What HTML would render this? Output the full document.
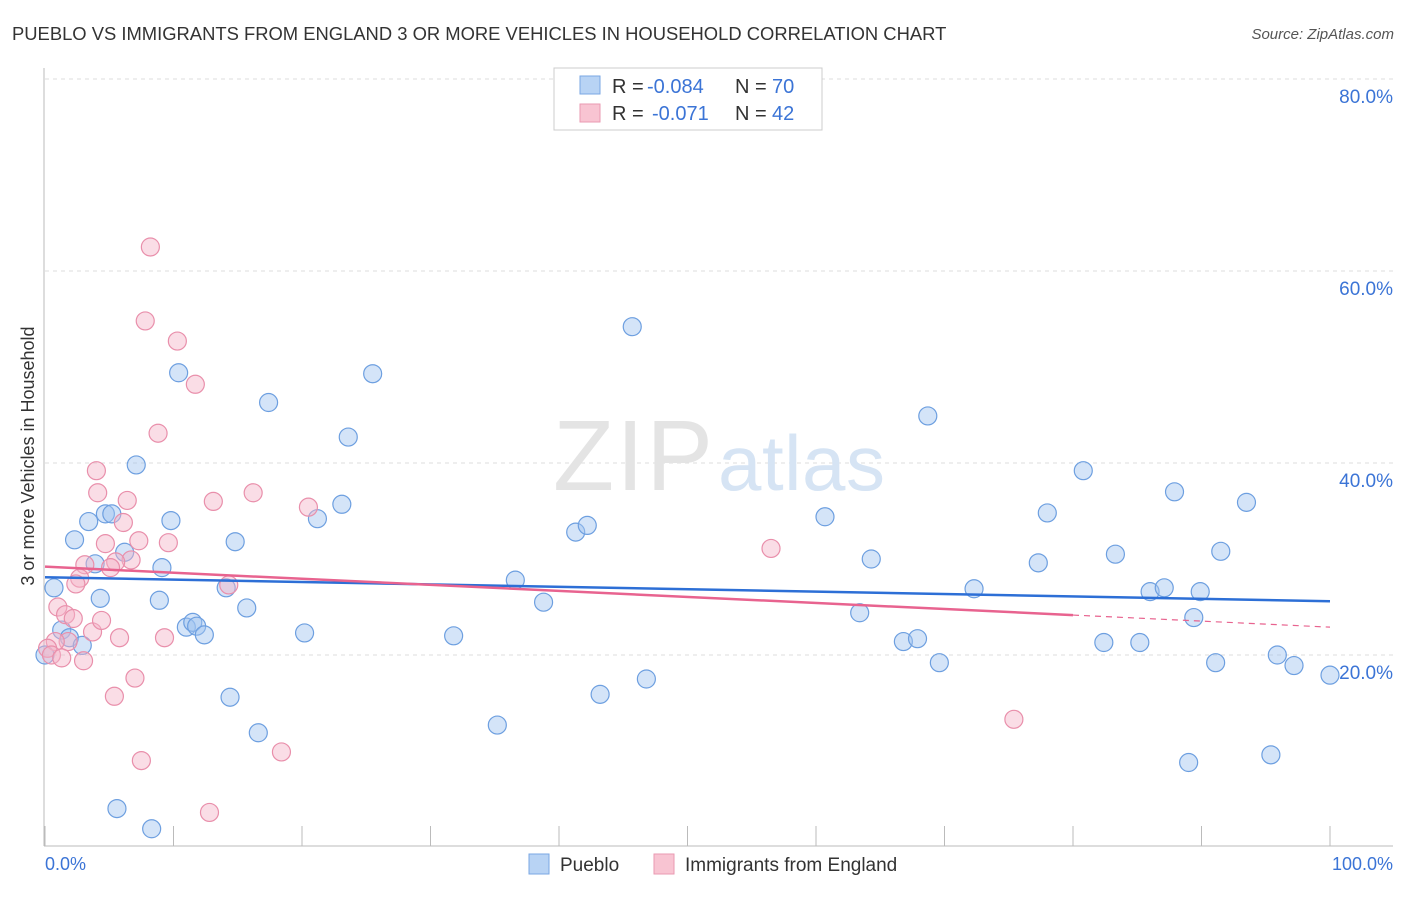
<!DOCTYPE html>
<html><head><meta charset="utf-8"><style>
body{margin:0;background:#fff;font-family:"Liberation Sans",sans-serif;}
svg text{font-family:"Liberation Sans",sans-serif;}
</style></head><body>
<svg id="chart" width="1406" height="892">
<text x="12" y="40" font-size="18.4" fill="#333">PUEBLO VS IMMIGRANTS FROM ENGLAND 3 OR MORE VEHICLES IN HOUSEHOLD CORRELATION CHART</text>
<text x="1394" y="39" font-size="15" fill="#555" text-anchor="end" font-style="italic">Source: ZipAtlas.com</text>
<g id="grid"></g>
<text x="553" y="490" font-size="100" fill="#e4e4e4" font-family="Liberation Serif" textLength="160">ZIP</text>
<text x="718" y="490" font-size="78" fill="#d6e4f4" textLength="167">atlas</text>
<g id="pts"></g>
<g id="trend"></g>
<text x="34" y="456" font-size="18" fill="#333" text-anchor="middle" transform="rotate(-90 34 456)">3 or more Vehicles in Household</text>
<g>
<rect x="554" y="68" width="268" height="62" fill="#fff" stroke="#ccc"/>
<rect x="580" y="76" width="20" height="18" fill="#b8d3f4" stroke="#7aa7e3"/>
<rect x="580" y="104" width="20" height="18" fill="#f8c4d2" stroke="#ea9ab2"/>
<text x="612" y="93" font-size="20" fill="#333">R =</text>
<text x="647" y="93" font-size="20" fill="#3b74d6">-0.084</text>
<text x="735" y="93" font-size="20" fill="#333">N =</text>
<text x="772" y="93" font-size="20" fill="#3b74d6">70</text>
<text x="612" y="120" font-size="20" fill="#333">R =</text>
<text x="652" y="120" font-size="20" fill="#3b74d6">-0.071</text>
<text x="735" y="120" font-size="20" fill="#333">N =</text>
<text x="772" y="120" font-size="20" fill="#3b74d6">42</text>
</g>
<g>
<rect x="529" y="854" width="20" height="20" fill="#b8d3f4" stroke="#7aa7e3"/>
<text x="560" y="871" font-size="19" fill="#333">Pueblo</text>
<rect x="654" y="854" width="20" height="20" fill="#f8c4d2" stroke="#ea9ab2"/>
<text x="685" y="871" font-size="19" fill="#333">Immigrants from England</text>
</g>
<text x="45" y="870" font-size="18" fill="#3b74d6">0.0%</text>
<text x="1393" y="870" font-size="18" fill="#3b74d6" text-anchor="end">100.0%</text>
</svg>
<script>
const yTicks=[20,40,60,80];
const blueX=[0.7,1.3,1.9,2.3,2.9,3.4,3.9,4.3,4.7,5.2,7.1,6.2,8.9,9.1,9.8,10.4,11.0,11.5,11.8,12.4,14.1,14.4,14.8,15.7,16.6,17.4,20.2,21.2,23.1,23.6,25.5,5.6,8.3,31.8,35.2,36.6,38.8,41.3,42.2,43.2,45.7,46.8,60.7,63.4,64.3,66.8,67.9,68.7,69.6,72.3,77.3,78.0,80.8,82.4,83.3,85.2,86.0,87.1,87.9,89.0,89.4,89.9,91.1,91.5,93.5,95.4,95.9,97.2,100,0];
const blueY=[27.0,22.6,21.8,32.0,21.0,33.9,29.5,25.9,34.7,34.7,39.8,30.7,25.7,29.1,34.0,49.4,22.9,23.4,23.0,22.1,27.0,15.6,31.8,24.9,11.9,46.3,22.3,34.2,35.7,42.7,49.3,4.0,1.9,22.0,12.7,27.8,25.5,32.8,33.5,15.9,54.2,17.5,34.4,24.4,30.0,21.4,21.7,44.9,19.2,26.9,29.6,34.8,39.2,21.3,30.5,21.3,26.6,27.0,37.0,8.8,23.9,26.6,19.2,30.8,35.9,9.6,20.0,18.9,17.9,20.0];
const pinkX=[8.2,7.8,10.3,11.7,8.8,4.0,4.1,6.4,13.1,16.2,20.5,6.1,7.3,4.7,9.6,6.7,5.5,3.1,2.7,2.4,5.1,14.3,1.0,1.6,2.2,3.7,4.4,5.8,9.3,1.8,0.8,0.2,0.5,1.3,3.0,7.0,5.4,7.5,18.4,12.8,56.5,75.4];
const pinkY=[62.5,54.8,52.7,48.2,43.1,39.2,36.9,36.1,36.0,36.9,35.4,33.8,31.9,31.6,31.7,29.9,29.7,29.4,28.0,27.4,29.1,27.3,25.0,24.2,23.8,22.4,23.6,21.8,21.8,21.4,21.4,20.7,20.0,19.7,19.4,17.6,15.7,9.0,9.9,3.6,31.1,13.3];
const blueTrend=[28.1,25.6];
const pinkTrend=[29.2,22.9];
const pinkSolidEnd=80;
const X0=45,X1=1330,Y0=847,PY=9.6;
const sx=v=>X0+(X1-X0)*v/100, sy=v=>Y0-v*PY;
const NS='http://www.w3.org/2000/svg';
function mk(tag,attrs,parent){const e=document.createElementNS(NS,tag);for(const k in attrs)e.setAttribute(k,attrs[k]);parent.appendChild(e);return e;}
const grid=document.getElementById('grid');
yTicks.forEach(t=>{
  const l=mk('line',{x1:45,x2:1393,y1:sy(t),y2:sy(t),stroke:'#ddd','stroke-dasharray':'4,4'},grid);
  
  
  const tx=mk('text',{x:1393,y:sy(t)+24,'font-size':19,fill:'#3b74d6','text-anchor':'end'},grid);
  tx.textContent=t.toFixed(1)+'%';
  
  
});
const ax=mk('line',{x1:44,x2:44,y1:68,y2:846,stroke:'#bbb'},grid);


const xa=mk('line',{x1:44,x2:1393,y1:846,y2:846,stroke:'#bbb'},grid);


for(let i=0;i<=10;i++){mk('line',{x1:sx(i*10),x2:sx(i*10),y1:826,y2:846,stroke:'#bbb'},grid);}
const pts=document.getElementById('pts');
blueX.forEach((x,i)=>{
  const c=mk('circle',{cx:sx(x),cy:sy(blueY[i]),r:9,fill:'rgba(160,195,240,0.45)',stroke:'#6d9fe0','stroke-width':1.2},pts);
  
  
});
pinkX.forEach((x,i)=>{
  const c=mk('circle',{cx:sx(x),cy:sy(pinkY[i]),r:9,fill:'rgba(244,180,200,0.45)',stroke:'#e98fab','stroke-width':1.2},pts);
  
  
});
const tr=document.getElementById('trend');
const bl=mk('line',{x1:sx(0),y1:sy(blueTrend[0]),x2:sx(100),y2:sy(blueTrend[1]),stroke:'#2d6fd6','stroke-width':2.5},tr);


const pAt=x=>pinkTrend[0]+(pinkTrend[1]-pinkTrend[0])*x/100;
const pl=mk('line',{x1:sx(0),y1:sy(pAt(0)),x2:sx(pinkSolidEnd),y2:sy(pAt(pinkSolidEnd)),stroke:'#e8638f','stroke-width':2.5},tr);


const pd=mk('line',{x1:sx(pinkSolidEnd),y1:sy(pAt(pinkSolidEnd)),x2:sx(100),y2:sy(pAt(100)),stroke:'#e8638f','stroke-width':1.2,'stroke-dasharray':'6,5'},tr);


</script>
</body></html>
